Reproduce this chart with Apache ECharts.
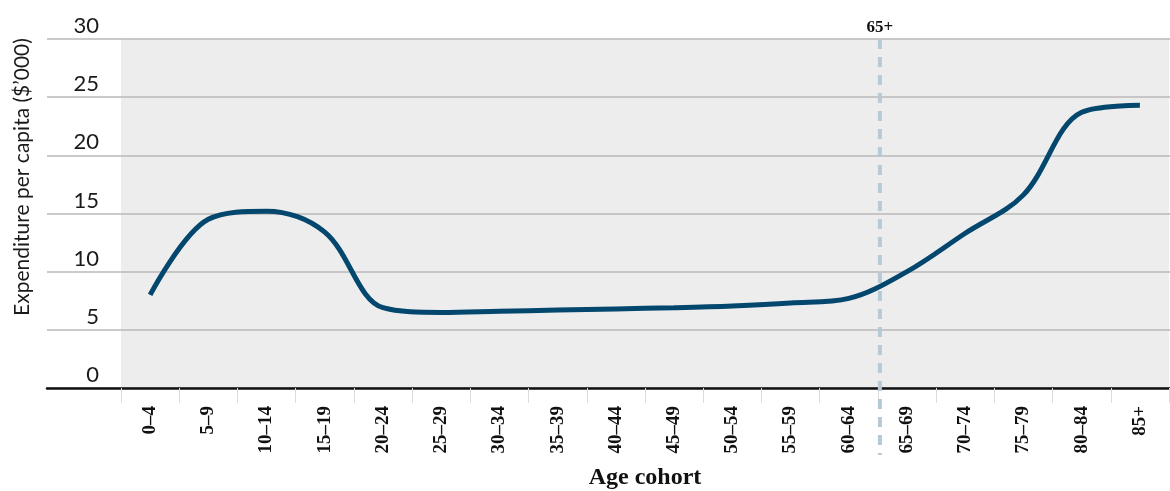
<!DOCTYPE html>
<html>
<head>
<meta charset="utf-8">
<script src="https://cdn.jsdelivr.net/npm/echarts@6/dist/echarts.min.js"></script>
<style>
  html, body { margin: 0; padding: 0; background: #fff; }
  #chart { width: 1170px; height: 491px; }
</style>
</head>
<body>
<div id="chart"></div>
<script>
// age cohorts and per capita expenditure ($'000)
var cohorts = ['0–4', '5–9', '10–14', '15–19', '20–24', '25–29', '30–34', '35–39', '40–44',
  '45–49', '50–54', '55–59', '60–64', '65–69', '70–74', '75–79', '80–84', '85+'];
var spending = [8.0, 14.5, 15.2, 13.4, 6.9, 6.5, 6.6, 6.7, 6.8, 6.9, 7.05, 7.3, 7.7, 10.0, 13.3, 16.6, 23.7, 24.3];
var yMin = 0, yMax = 30, yStep = 5;
var markerText = '65+';
var markerBetween = ['60–64', '65–69'];

var SERIF = '"Liberation Serif", "DejaVu Serif", serif';
var SANS = 'Lato, "Open Sans", sans-serif';

var chart = echarts.init(document.getElementById('chart'));

chart.setOption({
  animation: false,
  grid: [
    // wide grid: gridlines, y labels, black baseline
    { left: 47, right: 0, top: 39, bottom: 103, outerBoundsMode: 'none', containLabel: false },
    // data grid with grey panel
    { left: 121, right: 1, top: 39, bottom: 103, outerBoundsMode: 'none', containLabel: false,
      show: true, backgroundColor: '#ededed', borderWidth: 0 }
  ],
  xAxis: [
    {
      gridIndex: 0, type: 'value', min: 0, max: 1,
      axisLine: { show: true, onZero: false, lineStyle: { color: '#111', width: 2.5 } },
      axisTick: { show: false }, axisLabel: { show: false }, splitLine: { show: false }
    },
    {
      gridIndex: 1, type: 'category', data: cohorts,
      axisLine: { show: false },
      axisTick: { show: true, length: 15, lineStyle: { color: '#dcdcdc', width: 1 } },
      axisLabel: {
        interval: 0, rotate: 90, margin: 18,
        fontFamily: SERIF, fontWeight: 'bold', fontSize: 19, color: '#111'
      },
      name: 'Age cohort', nameLocation: 'middle', nameGap: 78,
      nameTextStyle: { fontFamily: SERIF, fontWeight: 'bold', fontSize: 24, color: '#111' }
    }
  ],
  yAxis: [
    {
      gridIndex: 0, type: 'value', min: yMin, max: yMax, interval: yStep,
      axisLine: { show: false }, axisTick: { show: false },
      splitLine: { show: true, lineStyle: { color: '#b8b8b8', width: 1.5 } },
      axisLabel: {
        inside: true, margin: 52, align: 'right', verticalAlign: 'bottom',
        padding: [0, 0, 2, 0],
        fontFamily: SANS, fontSize: 22, color: '#1a1a1a'
      }
    },
    { gridIndex: 1, type: 'value', min: yMin, max: yMax, show: false }
  ],
  series: [{
    type: 'line',
    xAxisIndex: 1, yAxisIndex: 1,
    data: spending,
    smooth: 0.35,
    symbol: 'none',
    lineStyle: { color: '#03466e', width: 5 },
    z: 5
  }]
});

// dashed divider between the two cohorts, placed with the axis scale
var xa = chart.convertToPixel({ xAxisIndex: 1 }, markerBetween[0]);
var xb = chart.convertToPixel({ xAxisIndex: 1 }, markerBetween[1]);
var xm = (xa + xb) / 2 + 2;
var yTop = chart.convertToPixel({ yAxisIndex: 1 }, yMax);
chart.setOption({
  graphic: [
    {
      type: 'text', x: 22, y: 177, rotation: Math.PI / 2,
      style: {
        text: 'Expenditure per capita ($’000)', font: '21px ' + SANS, fill: '#1a1a1a',
        textAlign: 'center', textVerticalAlign: 'middle'
      }
    },
    {
      type: 'line', z: 4,
      shape: { x1: xm, y1: yTop, x2: xm, y2: 455 },
      style: { stroke: '#b5c9d6', lineWidth: 4, lineDash: [10, 8] }
    },
    {
      type: 'text', x: xm, y: yTop - 3,
      style: {
        text: markerText, font: 'bold 17px ' + SERIF, fill: '#111',
        textAlign: 'center', textVerticalAlign: 'bottom'
      }
    }
  ]
});
</script>
</body>
</html>
